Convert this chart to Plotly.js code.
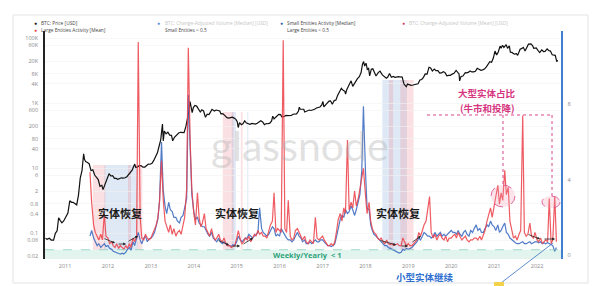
<!DOCTYPE html>
<html><head><meta charset="utf-8">
<script src="https://cdn.plot.ly/plotly-3.0.1.min.js"></script>
<style>html,body{margin:0;padding:0;background:#fff;}#chart{width:600px;height:286px;}</style>
</head><body><div id="chart"></div>
<script>
// ---------- DATA ----------
const priceDates = ['2010-07-18','2010-08-01','2010-08-20','2010-09-05','2010-09-25','2010-10-10','2010-10-25','2010-11-07','2010-11-20','2010-12-05','2010-12-20',
'2011-01-05','2011-01-25','2011-02-10','2011-02-25','2011-03-10','2011-03-25','2011-04-10','2011-04-25','2011-05-10','2011-05-25','2011-06-08','2011-06-15','2011-06-25','2011-07-10','2011-07-25','2011-08-10','2011-08-25','2011-09-10','2011-09-25','2011-10-10','2011-10-25','2011-11-10','2011-11-20','2011-12-05','2011-12-20',
'2012-01-10','2012-01-25','2012-02-10','2012-02-25','2012-03-10','2012-03-25','2012-04-10','2012-04-25','2012-05-10','2012-05-25','2012-06-10','2012-06-25','2012-07-10','2012-07-25','2012-08-16','2012-08-25','2012-09-10','2012-09-25','2012-10-10','2012-10-25','2012-11-10','2012-11-25','2012-12-10','2012-12-25',
'2013-01-10','2013-01-25','2013-02-10','2013-02-25','2013-03-10','2013-03-25','2013-04-09','2013-04-16','2013-04-25','2013-05-10','2013-05-25','2013-06-10','2013-06-25','2013-07-05','2013-07-20','2013-08-05','2013-08-25','2013-09-10','2013-09-25','2013-10-10','2013-10-25','2013-11-10','2013-11-20','2013-11-30','2013-12-08','2013-12-18','2013-12-28',
'2014-01-10','2014-01-25','2014-02-10','2014-02-25','2014-03-10','2014-03-25','2014-04-10','2014-04-25','2014-05-10','2014-05-25','2014-06-05','2014-06-25','2014-07-10','2014-07-25','2014-08-10','2014-08-20','2014-09-05','2014-09-25','2014-10-10','2014-10-25','2014-11-10','2014-11-25','2014-12-10','2014-12-25',
'2015-01-05','2015-01-14','2015-01-25','2015-02-10','2015-02-25','2015-03-10','2015-03-25','2015-04-10','2015-04-25','2015-05-10','2015-05-25','2015-06-10','2015-06-25','2015-07-10','2015-07-25','2015-08-10','2015-08-25','2015-09-10','2015-09-25','2015-10-10','2015-10-25','2015-11-04','2015-11-15','2015-11-25','2015-12-10','2015-12-25',
'2016-01-10','2016-01-20','2016-02-05','2016-02-25','2016-03-10','2016-03-25','2016-04-10','2016-04-25','2016-05-10','2016-05-25','2016-06-10','2016-06-17','2016-06-25','2016-07-10','2016-07-25','2016-08-02','2016-08-20','2016-09-10','2016-09-25','2016-10-10','2016-10-25','2016-11-10','2016-11-25','2016-12-10','2016-12-25',
'2017-01-04','2017-01-12','2017-01-25','2017-02-10','2017-02-25','2017-03-10','2017-03-25','2017-04-10','2017-04-25','2017-05-10','2017-05-25','2017-06-10','2017-06-25','2017-07-10','2017-07-16','2017-07-25','2017-08-10','2017-08-25','2017-09-01','2017-09-15','2017-09-25','2017-10-10','2017-10-25','2017-11-10','2017-11-25','2017-12-07','2017-12-17','2017-12-25',
'2018-01-06','2018-01-17','2018-01-28','2018-02-06','2018-02-20','2018-03-05','2018-03-20','2018-04-01','2018-04-20','2018-05-05','2018-05-25','2018-06-10','2018-06-28','2018-07-10','2018-07-25','2018-08-10','2018-08-25','2018-09-10','2018-09-25','2018-10-10','2018-10-25','2018-11-10','2018-11-25','2018-12-15','2018-12-25',
'2019-01-10','2019-01-25','2019-02-10','2019-02-25','2019-03-10','2019-03-25','2019-04-10','2019-04-25','2019-05-10','2019-05-25','2019-06-10','2019-06-26','2019-07-10','2019-07-25','2019-08-10','2019-08-25','2019-09-10','2019-09-25','2019-10-10','2019-10-26','2019-11-10','2019-11-25','2019-12-10','2019-12-25',
'2020-01-10','2020-01-25','2020-02-12','2020-02-25','2020-03-08','2020-03-13','2020-03-25','2020-04-10','2020-04-30','2020-05-10','2020-05-25','2020-06-10','2020-06-25','2020-07-10','2020-07-25','2020-08-10','2020-08-25','2020-09-10','2020-09-25','2020-10-10','2020-10-25','2020-11-10','2020-11-25','2020-12-10','2020-12-25',
'2021-01-08','2021-01-22','2021-02-05','2021-02-20','2021-03-01','2021-03-13','2021-03-25','2021-04-13','2021-04-25','2021-05-10','2021-05-19','2021-06-01','2021-06-22','2021-07-10','2021-07-20','2021-08-10','2021-08-25','2021-09-06','2021-09-21','2021-10-05','2021-10-20','2021-11-10','2021-11-25','2021-12-04','2021-12-25',
'2022-01-10','2022-01-24','2022-02-10','2022-02-25','2022-03-10','2022-03-28','2022-04-10','2022-04-25','2022-05-10','2022-05-25','2022-06-05','2022-06-14','2022-06-18','2022-06-25'];
const priceValues = [0.07,0.065,0.07,0.062,0.062,0.10,0.12,0.3,0.25,0.21,0.24,
0.3,0.42,1.0,0.9,0.9,0.8,0.75,1.5,5.0,8.5,28,19,16,15,13.8,8.5,9.0,6.2,5.2,4.5,2.8,3.0,2.2,3.0,3.9,
6.8,5.8,5.9,4.9,4.9,4.6,4.9,5.1,5.0,5.1,5.5,6.4,7.6,8.8,13.5,10.5,11.0,12.3,11.9,10.8,10.9,12.4,13.4,13.3,
14.2,17.5,24,30,46,75,230,70,140,115,130,105,103,70,90,105,122,128,125,125,190,330,560,1120,790,520,740,
860,820,690,540,630,580,370,460,450,580,650,580,620,600,580,470,480,410,360,350,360,375,350,320,
275,180,255,220,237,290,247,236,226,240,238,229,243,270,289,265,220,238,235,245,285,400,330,360,415,455,
448,380,385,425,415,415,420,460,455,470,580,760,660,650,655,540,580,620,600,615,655,715,735,770,890,
1130,780,890,990,1170,1190,930,1210,1260,1780,2400,2900,2500,2330,1930,2580,3400,4350,4900,3300,3900,4750,5750,6600,8800,16000,19300,14000,
17100,11000,11800,7000,11200,11500,8900,6900,8800,9800,7500,6800,5900,6400,8200,6300,6700,6300,6500,6600,6450,6400,3900,3250,3900,
3650,3580,3650,3820,3920,3990,5200,5400,6300,8000,7900,12900,12300,9800,11300,10100,10100,8450,8600,9400,8800,7000,7200,7250,
7900,8400,10300,9300,8000,4900,6700,6900,8700,8600,8900,9800,9200,9250,9700,11900,11400,10350,10700,11300,13000,15300,19100,18300,24700,
40500,30800,38000,57500,49000,61000,52000,63500,49000,58000,37000,36700,32500,33800,29800,46000,48800,52700,40600,51500,66000,67500,58900,49200,50800,
41800,36300,44000,39100,39400,47100,42200,40400,31000,29500,29900,22200,19000,21300];

// Large Entities Activity [Mean] — twice a month (1st, 15th)
const red2011 = [4.4,2.8, 1.6,1.2, 1.0,0.8, 1.1,0.8, 2.2,1.0];          // from Aug
const red2012 = [0.9,0.6, 0.7,0.5, 0.4,0.6, 0.35,0.5, 0.4,0.3, 0.5,0.35, 0.6,0.4, 0.9,0.7, 1.0,11.3, 2.0,0.9, 0.8,1.1, 0.9,0.8];
const red2013 = [0.9,1.1, 1.3,1.6, 2.0,2.8, 5.0,3.0, 1.8,1.5, 1.2,1.6, 1.1,1.4, 1.0,1.2, 1.3,1.1, 1.6,2.0, 3.5,11.0, 6.0,3.5];
const red2014 = [2.2,1.6, 3.3,2.0, 1.5,1.7, 2.2,1.4, 1.2,1.0, 1.4,1.0, 0.8,0.9, 1.1,0.8, 0.7,0.9, 0.6,0.5, 0.5,0.4, 0.45,0.5];
const red2015 = [0.9,1.3, 0.8,0.6, 0.7,0.9, 0.8,1.0, 0.7,0.9, 1.1,1.0, 1.3,1.1, 1.2,1.0, 1.0,0.9, 1.3,1.6, 1.8,3.3, 1.2,1.4];
const red2016 = [1.3,1.2, 11.4,1.4, 1.2,2.9, 1.0,0.8, 0.9,1.3, 1.4,1.2, 1.0,0.8, 1.0,0.7, 0.6,0.8, 0.7,0.6, 2.0,0.9, 0.8,0.9];
const red2017 = [1.0,0.8, 0.6,0.5, 0.5,0.6, 0.5,0.7, 1.3,1.9, 2.2,1.8, 2.5,2.2, 6.1,2.4, 2.8,2.5, 3.4,2.6, 3.0,3.5, 4.1,4.6];
const red2018 = [3.2,2.2, 2.8,1.8, 1.4,1.2, 1.1,0.9, 0.8,0.9, 0.7,0.6, 0.8,0.6, 0.55,0.6, 0.5,0.55, 0.6,0.5, 0.5,0.9, 0.7,0.5];
const red2019 = [0.6,0.5, 0.5,0.6, 0.7,0.8, 1.2,1.0, 1.3,1.6, 1.8,2.3, 3.1,1.2, 0.9,1.1, 0.8,1.0, 1.1,0.9, 0.8,1.0, 0.7,0.9];
const red2020 = [0.9,1.0, 1.1,0.9, 1.2,1.0, 0.8,0.9, 1.0,0.8, 0.7,0.8, 0.8,0.9, 0.9,0.8, 1.0,0.8, 1.1,1.3, 1.8,2.2, 2.5,2.0];
const red2021 = [2.6,3.0, 3.7,2.7, 3.3,2.9, 4.5,3.2, 3.6,1.8, 1.2,0.9, 1.0,0.8, 1.1,1.3, 7.4,1.2, 1.0,1.1, 1.7,1.0, 0.9,1.2];
const red2022 = [0.8,0.7, 0.9,0.6, 0.7,0.8, 0.7,3.0, 0.6,0.8, 3.1,0.7];  // to Jun

// Small Entities Activity [Median]
const blue2011 = [1.0,1.3, 0.9,0.7, 0.5,0.6, 0.4,0.5, 0.6,0.45];
const blue2012 = [0.5,0.35, 0.3,0.2, 0.15,0.1, 0.08,0.05, 0.1,0.05, 0.15,0.3, 0.4,0.25, 0.7,0.5, 0.9,1.2, 0.8,0.6, 0.9,1.0, 0.7,0.85];
const blue2013 = [0.9,1.0, 1.2,1.5, 1.9,2.9, 6.0,3.5, 2.6,2.2, 2.8,2.4, 2.3,2.0, 2.0,1.8, 1.7,2.0, 2.1,2.5, 3.0,8.5, 5.0,3.2];
const blue2014 = [2.3,1.9, 2.0,1.7, 1.6,1.5, 1.5,1.3, 1.1,1.0, 1.2,0.9, 0.8,0.7, 0.9,0.7, 0.6,0.7, 0.6,0.5, 0.5,0.45, 0.55,0.5];
const blue2015 = [0.7,1.0, 0.8,0.7, 0.8,0.9, 0.9,1.1, 1.0,0.9, 1.0,1.1, 1.2,2.5, 1.4,1.2, 1.1,1.0, 1.1,1.3, 1.5,1.4, 1.0,1.1];
const blue2016 = [1.0,1.4, 1.2,1.0, 0.9,0.8, 0.8,0.7, 0.8,1.0, 1.2,1.0, 0.9,0.7, 0.8,0.6, 0.6,0.7, 0.6,0.7, 0.8,0.7, 0.7,0.8];
const blue2017 = [0.8,0.7, 0.6,0.5, 0.5,0.45, 0.5,0.6, 1.0,1.5, 1.9,2.1, 2.0,2.4, 2.2,2.3, 2.6,2.4, 2.1,2.4, 2.8,3.2, 4.5,7.9];
const blue2018 = [4.5,2.5, 2.4,1.6, 1.3,1.1, 1.0,0.9, 0.8,0.7, 0.6,0.5, 0.5,0.4, 0.35,0.3, 0.25,0.2, 0.15,0.1, 0.15,0.3, 0.25,0.35];
const blue2019 = [0.3,0.35, 0.4,0.5, 0.6,0.7, 0.9,0.8, 1.0,1.2, 1.1,1.0, 1.0,0.9, 1.0,1.2, 1.0,1.1, 1.2,1.0, 1.1,1.0, 1.1,1.2];
const blue2020 = [1.3,1.2, 1.2,1.1, 1.3,1.1, 1.0,1.2, 1.3,1.1, 1.0,1.3, 1.2,1.4, 1.6,1.3, 1.4,1.2, 1.2,1.4, 1.6,1.5, 1.8,1.6];
const blue2021 = [1.5,1.3, 1.6,1.2, 1.3,1.5, 1.7,1.2, 1.1,0.9, 0.8,0.7, 0.65,0.6, 0.6,0.65, 0.7,0.6, 0.6,0.65, 0.7,0.6, 0.65,0.7];
const blue2022 = [0.7,0.65, 0.7,0.6, 0.65,0.6, 0.65,0.6, 0.55,0.5, 0.2,0.4];

// periods when the ratio is < 0.5 (shaded bands)
const largeBelowHalf = [['2011-08-25','2011-12-10'],['2012-06-20','2012-07-15'],['2012-09-05','2012-10-20'],['2014-09-05','2014-12-05'],['2015-02-05','2015-02-20'],['2018-07-20','2018-08-25'],['2018-10-25','2019-02-15']];
const smallBelowHalf = [['2011-12-01','2012-09-10'],['2014-11-20','2014-12-25'],['2015-04-01','2015-04-10'],['2018-05-25','2018-12-20']];

const yearTicks = ['2011','2012','2013','2014','2015','2016','2017','2018','2019','2020','2021','2022'];
const priceTickVals = [0.02,0.06,0.1,0.4,0.8,2,6,10,40,80,200,600,1000,4000,8000,20000,60000,100000];
const priceTickText = ['0.02','0.06','0.1','0.4','0.8','2','6','10','40','80','200','600','1K','4K','8K','20K','60K','100K'];
const ratioTickVals = [0,4,8];
const weeklyYearlyLine = 0.28;

// ---------- BUILD ----------
function semiMonthly(list){
  const d=[], v=[];
  list.forEach(([yr, m0, arr])=>{
    arr.forEach((val,i)=>{
      const m = m0 + Math.floor(i/2);
      const day = (i%2) ? '15' : '01';
      d.push(yr+'-'+String(m).padStart(2,'0')+'-'+day); v.push(val);
    });
  });
  return {d,v};
}
const red = semiMonthly([[2011,8,red2011],[2012,1,red2012],[2013,1,red2013],[2014,1,red2014],[2015,1,red2015],[2016,1,red2016],[2017,1,red2017],[2018,1,red2018],[2019,1,red2019],[2020,1,red2020],[2021,1,red2021],[2022,1,red2022]]);
const blue = semiMonthly([[2011,8,blue2011],[2012,1,blue2012],[2013,1,blue2013],[2014,1,blue2014],[2015,1,blue2015],[2016,1,blue2016],[2017,1,blue2017],[2018,1,blue2018],[2019,1,blue2019],[2020,1,blue2020],[2021,1,blue2021],[2022,1,blue2022]]);

// pixel helpers for decorations (plot area: x 45..561, y 31..259)
const L=45, R=561, T=31, B=259;
const px = x => (x-L)/(R-L);
const py = y => (B-y)/(B-T);
// how high each shaded era reaches (style only)
const bandTop = d => { const y=+d.slice(0,4); return y<2014 ? py(165) : (y<2017 ? py(112) : py(80)); };

const traces = [
  {x: blue.d, y: blue.v, yaxis:'y2', type:'scatter', mode:'lines', line:{color:'rgba(52,100,190,0.85)', width:1.2}, hoverinfo:'skip'},
  {x: red.d, y: red.v, yaxis:'y2', type:'scatter', mode:'lines', line:{color:'rgba(236,62,70,0.85)', width:1.2}, hoverinfo:'skip'},
  {x: priceDates, y: priceValues, type:'scatter', mode:'lines', line:{color:'#111', width:1.2}, hoverinfo:'skip'}
];

const shapes = [];
// card
shapes.push({type:'rect', xref:'paper', yref:'paper', x0:px(13), x1:px(588), y0:py(283), y1:py(15), line:{color:'#e3e3e3', width:1}, fillcolor:'rgba(0,0,0,0)', layer:'below'});
smallBelowHalf.forEach(b=>shapes.push({type:'rect', xref:'x', yref:'paper', x0:b[0], x1:b[1], y0:0, y1:bandTop(b[0]), fillcolor:'rgba(120,165,215,0.24)', line:{width:0}, layer:'below'}));
largeBelowHalf.forEach(b=>shapes.push({type:'rect', xref:'x', yref:'paper', x0:b[0], x1:b[1], y0:0, y1:bandTop(b[0]), fillcolor:'rgba(235,125,140,0.24)', line:{width:0}, layer:'below'}));
// weekly/yearly < 1 band
shapes.push({type:'rect', xref:'paper', yref:'y2', x0:0, x1:1, y0:-0.25, y1:weeklyYearlyLine, fillcolor:'#e2f4ee', line:{width:0}, layer:'below'});
shapes.push({type:'line', xref:'paper', yref:'y2', x0:0, x1:1, y0:weeklyYearlyLine, y1:weeklyYearlyLine, line:{color:'#8ccfbc', width:0.8, dash:'dash'}});
// pink dotted bracket
const pink = '#d8478a';
shapes.push({type:'line', xref:'paper', yref:'paper', x0:px(427), x1:px(552), y0:py(115), y1:py(115), line:{color:pink, width:1, dash:'dot'}});
shapes.push({type:'line', xref:'paper', yref:'paper', x0:px(503), x1:px(503), y0:py(115), y1:py(186), line:{color:pink, width:1, dash:'dot'}});
shapes.push({type:'line', xref:'paper', yref:'paper', x0:px(552), x1:px(552), y0:py(115), y1:py(196), line:{color:pink, width:1, dash:'dot'}});
shapes.push({type:'circle', xref:'paper', yref:'paper', x0:px(491), x1:px(515), y0:py(207), y1:py(185), line:{color:pink, width:0.8, dash:'dash'}, fillcolor:'rgba(240,150,175,0.25)'});
shapes.push({type:'circle', xref:'paper', yref:'paper', x0:px(542), x1:px(560), y0:py(208), y1:py(196), line:{color:pink, width:0.8, dash:'dash'}, fillcolor:'rgba(240,150,175,0.25)'});
// blue pointer line + yellow tag
shapes.push({type:'line', xref:'paper', yref:'paper', x0:px(497), x1:px(553), y0:py(286), y1:py(243), line:{color:'#3a6fc4', width:0.8}});
shapes.push({type:'rect', xref:'paper', yref:'paper', x0:px(494), x1:px(504), y0:py(286), y1:py(282), fillcolor:'#f2d14b', line:{width:0}});

const ann = [];
function txt(x,y,t,opt){ ann.push(Object.assign({xref:'paper', yref:'paper', x:px(x), y:py(y), text:t, showarrow:false, xanchor:'center', yanchor:'middle'}, opt||{})); }
const lf = {family:'Open Sans, sans-serif', size:4.8, color:'#444'};
const lfg = {family:'Open Sans, sans-serif', size:4.8, color:'#c6c6c6'};
// legend
txt(35.7,23.3,'●',{font:{size:5,color:'#111'}});
txt(38.5,23.3,'BTC: Price [USD]',{xanchor:'left',font:lf});
txt(35.7,29.5,'●',{font:{size:5,color:'#e8454a'}});
txt(38.5,29.5,'Large Entities Activity [Mean]',{xanchor:'left',font:lf});
txt(158.3,23.3,'●',{font:{size:5,color:'#5a8fd6'}});
txt(163,23.3,'BTC: Change-Adjusted Volume [Median] [USD]',{xanchor:'left',font:lfg});
txt(163,29.5,'Small Entities &lt; 0.5',{xanchor:'left',font:lf});
txt(281.7,23.3,'●',{font:{size:5,color:'#2f5fae'}});
txt(285,23.3,'Small Entities Activity [Median]',{xanchor:'left',font:lf});
txt(285,29.5,'Large Entities &lt; 0.5',{xanchor:'left',font:lf});
txt(403,23.3,'●',{font:{size:5,color:'#d0406e'}});
txt(407,23.3,'BTC: Change-Adjusted Volume [Mean] [USD]',{xanchor:'left',font:lfg});
// watermark
txt(300,145,'glassnode',{font:{family:'Lato, sans-serif', size:41, color:'rgba(170,170,170,0.35)'}});
// labels
const cf = {family:'Noto Sans CJK SC, sans-serif', size:11, color:'#1a1a1a'};
txt(120,213,'<b>实体恢复</b>',{font:cf});
txt(237,213,'<b>实体恢复</b>',{font:cf});
txt(398,213,'<b>实体恢复</b>',{font:cf});
txt(487,93,'<b>大型实体占比</b>',{font:{family:'Noto Sans CJK SC, sans-serif', size:9.5, color:'#d6357f'}});
txt(487,108,'<b>(牛市和投降)</b>',{font:{family:'Noto Sans CJK SC, sans-serif', size:9.5, color:'#d6357f'}});
txt(307,255,'<b>Weekly/Yearly  &lt; 1</b>',{font:{family:'Open Sans, sans-serif', size:7.5, color:'#2ea37c'}});
txt(425,277,'<b>小型实体继续</b>',{font:{family:'Noto Sans CJK SC, sans-serif', size:9.5, color:'#2f6fd0'}});
// arrows
function arrow(x0,y0,x1,y1){ ann.push({xref:'paper', yref:'paper', x:px(x1), y:py(y1), ax:x0-x1, ay:y0-y1, axref:'pixel', ayref:'pixel', text:'', showarrow:true, arrowhead:2, arrowsize:0.7, arrowwidth:0.8, arrowcolor:'#222'}); }
arrow(103,238,115,243); arrow(117,244,126,244); arrow(127,242,138,236);
arrow(217,240,229,245); arrow(231,246,240,246); arrow(242,245,253,238);
arrow(379,240,396,245); arrow(400,246,408,246); arrow(411,243,421,236);
arrow(527,234,540,239); arrow(543,239,555,239);

const tickFont = {family:'Open Sans, sans-serif', size:5.5, color:'#888'};
const layout = {
  width:600, height:286,
  margin:{l:L, r:600-R, t:T, b:286-B, pad:0},
  paper_bgcolor:'#fff', plot_bgcolor:'rgba(0,0,0,0)',
  showlegend:false,
  xaxis:{type:'date', range:['2010-07-14','2022-07-24'], tickvals:yearTicks.map(y=>y+'-01-01'), ticktext:yearTicks, showgrid:false, zeroline:false, showline:false, ticks:'', tickfont:tickFont, ticklabelstandoff:2},
  yaxis:{type:'log', range:[-1.791, 5.224], tickvals:priceTickVals, ticktext:priceTickText, showgrid:true, gridcolor:'#f1f1f1', gridwidth:0.6, zeroline:false, showline:true, linecolor:'#222', linewidth:1.8, ticks:'', tickfont:tickFont, ticklabelstandoff:4},
  yaxis2:{overlaying:'y', side:'right', range:[-0.212, 11.89], tickvals:ratioTickVals, showgrid:false, zeroline:false, showline:true, linecolor:'#3f80d0', linewidth:1.5, ticks:'', tickfont:tickFont, ticklabelstandoff:4},
  shapes:shapes, annotations:ann
};
Plotly.newPlot('chart', traces, layout, {staticPlot:true, displayModeBar:false});
</script></body></html>
